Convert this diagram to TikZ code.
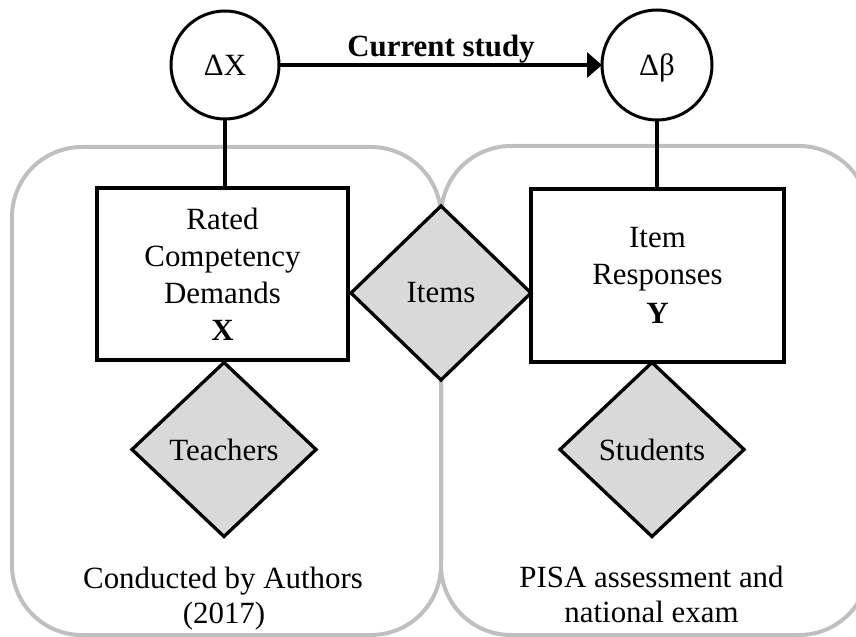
\documentclass[tikz,border=0pt]{standalone}
\usepackage{fontspec}
\setmainfont{Liberation Serif}
\usetikzlibrary{shapes.geometric,arrows.meta}
\definecolor{groupgray}{HTML}{BFBFBF}
\definecolor{diafill}{HTML}{D9D9D9}
\begin{document}
\begin{tikzpicture}[x=1bp,y=-1bp,
  every node/.style={font=\fontsize{31}{37}\selectfont},
  blk/.style={line width=3.3bp},
  circ/.style={circle,draw,line width=3bp,minimum size=108bp,inner sep=0pt,outer sep=0pt,text height=21bp,text depth=0bp},
  box/.style={rectangle,draw,fill=white,line width=3.3bp,align=center,inner sep=0pt,outer sep=0pt},
  dia/.style={diamond,draw,fill=diafill,line width=3.3bp,inner sep=0pt,outer sep=0pt,minimum height=174bp},
  group/.style={draw=groupgray,line width=4bp,rounded corners=70bp},
  lbl/.style={anchor=base,inner sep=0pt}]
\useasboundingbox (0,0) rectangle (856,637);
\clip (0,0) rectangle (856,637);
\draw[group] (12,147) rectangle (441,635);
\draw[group] (441,146) rectangle (869,635);
\node[circ] (dx) at (225,65) {ΔX};
\node[circ,minimum size=110bp] (db) at (657,65) {Δβ};
\node[box,minimum width=251bp,minimum height=172bp] (rx) at (222.5,274) {Rated\\Competency\\Demands\\\textbf{X}};
\node[box,minimum width=253bp,minimum height=173bp] (ry) at (657.5,275.5) {Item\\Responses\\[2bp]\textbf{Y}};
\draw[blk] (dx.south) -- (dx.south |- rx.north);
\draw[blk] (db.south) -- (db.south |- ry.north);
\draw[blk,-{Triangle[length=15bp,width=25bp]}] (dx.east) -- (db.west);
\node[dia,minimum width=180bp] (items) at (441,293) {Items};
\node[dia,minimum width=184bp] (teach) at (224,449.5) {Teachers};
\node[dia,minimum width=184bp] (stud) at (652,449.5) {Students};
\node[lbl,font=\bfseries\fontsize{31}{37}\selectfont] (cs) at (441,57) {Current study};
\node[lbl] (c1) at (223,588) {Conducted by Authors};
\node[lbl] (c2) at (224,623) {(2017)};
\node[lbl] (p1) at (651.5,587) {PISA assessment and};
\node[lbl] (p2) at (651.5,622) {national exam};
\end{tikzpicture}
\end{document}
